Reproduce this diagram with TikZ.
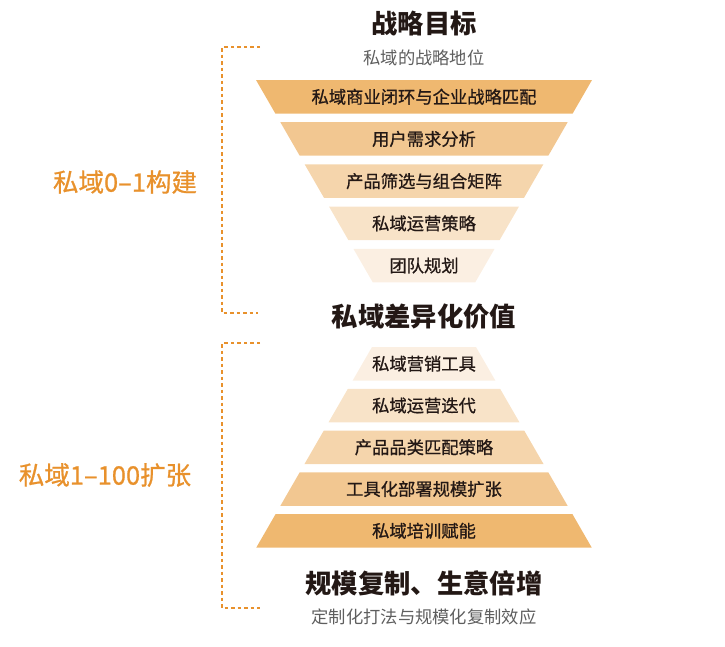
\documentclass[tikz,border=0pt]{standalone}
\usepackage{fontspec}
\setmainfont{Noto Sans CJK SC}
\newfontfamily\medfont{Noto Sans CJK SC}[FakeBold=0.8]
\definecolor{c1}{HTML}{EFB870}
\definecolor{c2}{HTML}{F2C791}
\definecolor{c3}{HTML}{F5D5AC}
\definecolor{c4}{HTML}{F8E3C8}
\definecolor{c5}{HTML}{FBEFE2}
\definecolor{ink}{HTML}{231815}
\definecolor{sub}{HTML}{5E5E5E}
\definecolor{accent}{HTML}{E8912C}
\begin{document}
\begin{tikzpicture}[x=1pt,y=-1pt,
  bandtext/.style={font=\medfont\fontsize{17.3}{19}\selectfont, text=ink, inner sep=0pt},
  titletext/.style={font=\fontsize{26.3}{28}\selectfont\bfseries, text=ink, inner sep=0pt},
  subtext/.style={font=\fontsize{17.3}{19}\selectfont, text=sub, inner sep=0pt},
  sidetext/.style={font=\medfont\fontsize{25.5}{27}\selectfont, text=accent, inner sep=0pt},
  bracket/.style={draw=accent, line width=1.6pt, dash pattern=on 3.5pt off 3pt}]
\useasboundingbox (0,0) rectangle (725,646);
% top funnel
\foreach \i/\col/\txt in {0/c1/私域商业闭环与企业战略匹配,1/c2/用户需求分析,2/c3/产品筛选与组合矩阵,3/c4/私域运营策略,4/c5/团队规划}{
  \pgfmathsetmacro\ytop{80+42.2*\i}
  \pgfmathsetmacro\ybot{\ytop+33.5}
  \pgfmathsetmacro\hwt{168-0.577*(\ytop-80)}
  \pgfmathsetmacro\hwb{168-0.577*(\ybot-80)}
  \pgfmathsetmacro\ymid{(\ytop+\ybot)/2}
  \fill[\col] (424-\hwt,\ytop) -- (424+\hwt,\ytop) -- (424+\hwb,\ybot) -- (424-\hwb,\ybot) -- cycle;
  \node[bandtext] (t\i) at (424,\ymid) {\txt};
}
% bottom pyramid
\foreach \i/\col/\txt in {0/c5/私域营销工具,1/c4/私域运营迭代,2/c3/产品品类匹配策略,3/c2/工具化部署规模扩张,4/c1/私域培训赋能}{
  \pgfmathsetmacro\ytop{347+41.75*\i}
  \pgfmathsetmacro\ybot{\ytop+33.5}
  \pgfmathsetmacro\hwt{52+0.577*(\ytop-347)}
  \pgfmathsetmacro\hwb{52+0.577*(\ybot-347)}
  \pgfmathsetmacro\ymid{(\ytop+\ybot)/2}
  \fill[\col] (424-\hwt,\ytop) -- (424+\hwt,\ytop) -- (424+\hwb,\ybot) -- (424-\hwb,\ybot) -- cycle;
  \node[bandtext] (b\i) at (424,\ymid) {\txt};
}
% titles
\node[titletext] (goal) at (424,24) {战略目标};
\node[subtext] (goalsub) at (424,58) {私域的战略地位};
\node[titletext] (value) at (424,317) {私域差异化价值};
\node[titletext] (scale) at (424,583) {规模复制、生意倍增};
\node[subtext] (scalesub) at (424,617) {定制化打法与规模化复制效应};
% side labels
\node[sidetext] (phase1) at (125,182) {私域0–1构建};
\node[sidetext] (phase2) at (105,475) {私域1–100扩张};
% brackets
\coordinate (k1a) at (260,47);
\coordinate (k1b) at (222,47);
\coordinate (k1c) at (222,313);
\coordinate (k1d) at (258,313);
\coordinate (k2a) at (260,343);
\coordinate (k2b) at (222,343);
\coordinate (k2c) at (222,608);
\coordinate (k2d) at (260,608);
\draw[bracket] (k1a) -- (k1b) -- (k1c) -- (k1d);
\draw[bracket] (k2a) -- (k2b) -- (k2c) -- (k2d);
\end{tikzpicture}
\end{document}
